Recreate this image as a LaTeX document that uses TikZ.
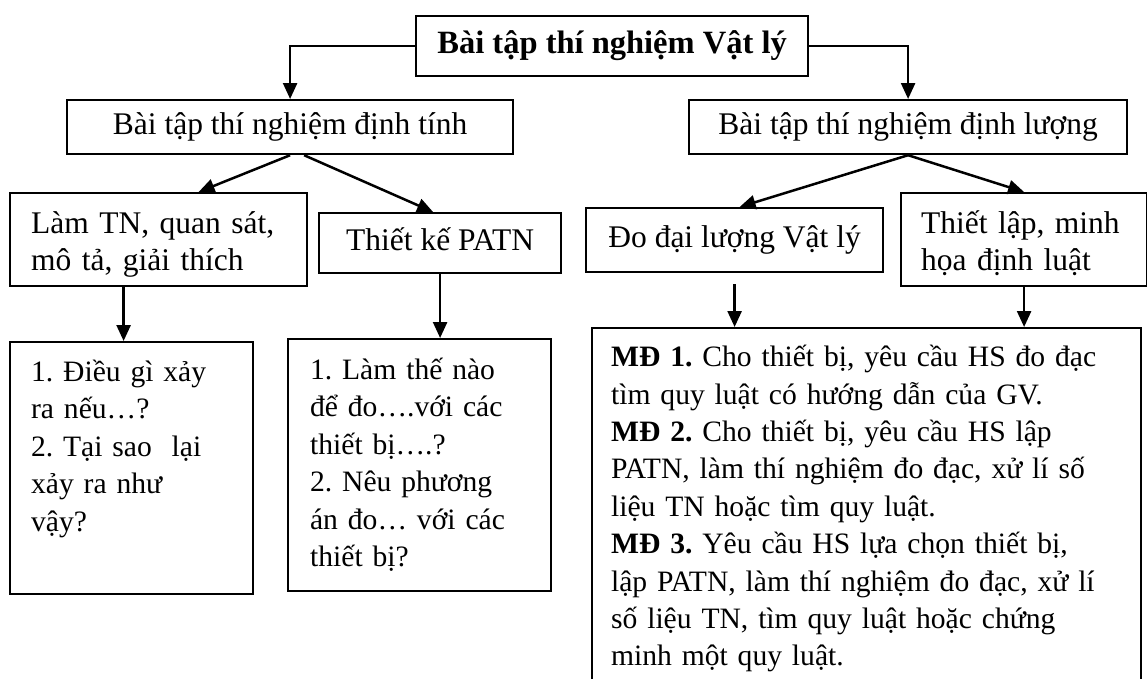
\documentclass[tikz,border=0pt]{standalone}
\usepackage{fontspec}
\setmainfont{Liberation Serif}
\usetikzlibrary{arrows.meta}
\frenchspacing

\tikzset{
	box/.style={draw, line width=2.2pt, inner sep=0pt, anchor=north west, text height=23.5pt, text depth=8pt},
	smalltext/.style={align=left, font=\fontsize{29.6}{37.5}\selectfont},
	link/.style={line width=2.5pt, -{Triangle[length=16pt,width=14pt]}}
}

\begin{document}
\begin{tikzpicture}[x=1pt, y=-1pt, font=\fontsize{31.5}{37}\selectfont]
		%%%%% START %%%%%
		\useasboundingbox (0, 0) rectangle (1147, 678);
		\clip (0, 0) rectangle (1147, 678);
		
		\node[box, minimum width=392pt, minimum height=60pt, font=\fontsize{32.5}{37}\selectfont\bfseries] (top) at (415, 15) {Bài tập thí nghiệm Vật lý};
		
		\node[box, minimum width=446pt, minimum height=54pt] (dinhtinh) at (66, 99) {Bài tập thí nghiệm định tính};
		\node[box, minimum width=438pt, minimum height=54pt] (dinhluong) at (688, 99) {Bài tập thí nghiệm định lượng};
		
		\node[box, align=left, text width=255pt, inner xsep=21pt, minimum height=93pt, text height=27.5pt, text depth=40.5pt] (lamtn) at (9, 192) {Làm TN, quan sát,\\ mô tả, giải thích};
		\node[box, minimum width=242pt, minimum height=60pt] (thietke) at (318, 212) {Thiết kế PATN};
		\node[box, minimum width=297pt, minimum height=64pt] (dodai) at (585, 207) {Đo đại lượng Vật lý};
		\node[box, align=left, text width=206pt, inner xsep=20pt, minimum height=93pt, text height=27.5pt, text depth=40.5pt] (thietlap) at (900, 192) {Thiết lập, minh\\ họa định luật};
		
		\node[box, smalltext, text width=201pt, inner xsep=21pt, text height=39pt, text depth=213pt] (cauhoia) at (9, 341) {1. Điều gì xảy\\ ra nếu…?\\ 2. Tại sao\ \ lại\\ xảy ra như\\ vậy?};
		\node[box, smalltext, text width=219pt, inner xsep=22pt, text height=40pt, text depth=212pt] (cauhoib) at (287, 338) {1. Làm thế nào\\ để đo….với các\\ thiết bị….?\\ 2. Nêu phương\\ án đo… với các\\ thiết bị?};
		\node[box, smalltext, font=\fontsize{29.6}{37.4}\selectfont, text width=511pt, inner xsep=19pt, text height=38.5pt, text depth=400pt] (mucdo) at (591, 327) {\textbf{MĐ 1.} Cho thiết bị, yêu cầu HS đo đạc\\ tìm quy luật có hướng dẫn của GV.\\ \textbf{MĐ 2.} Cho thiết bị, yêu cầu HS lập\\ PATN, làm thí nghiệm đo đạc, xử lí số\\ liệu TN hoặc tìm quy luật.\\ \textbf{MĐ 3.} Yêu cầu HS lựa chọn thiết bị,\\ lập PATN, làm thí nghiệm đo đạc, xử lí\\ số liệu TN, tìm quy luật hoặc chứng\\ minh một quy luật.};
		
		\draw[link] (top.west) -| (dinhtinh.north);
		\draw[link] (top.east) -| (dinhluong.north);
		
		\draw[link] (dinhtinh.south) -- ([xshift=40pt]lamtn.north);
		\draw[link] ([xshift=14pt]dinhtinh.south) -- ([xshift=-7pt]thietke.north);
		\draw[link] (dinhluong.south) -- ([xshift=5pt]dodai.north);
		\draw[link] (dinhluong.south) -- (thietlap.north);
		
		\coordinate (la) at ([xshift=-35pt]lamtn.south);
		\draw[link] (la) -- (la |- cauhoia.north);
		\draw[link] (thietke.south) -- (thietke.south |- cauhoib.north);
		\draw[link] ([yshift=-11pt]dodai.south) -- (dodai.south |- mucdo.north);
		\draw[link] (thietlap.south) -- (thietlap.south |- mucdo.north);
		
		%%%%% END %%%%%
	\end{tikzpicture}
\end{document}
